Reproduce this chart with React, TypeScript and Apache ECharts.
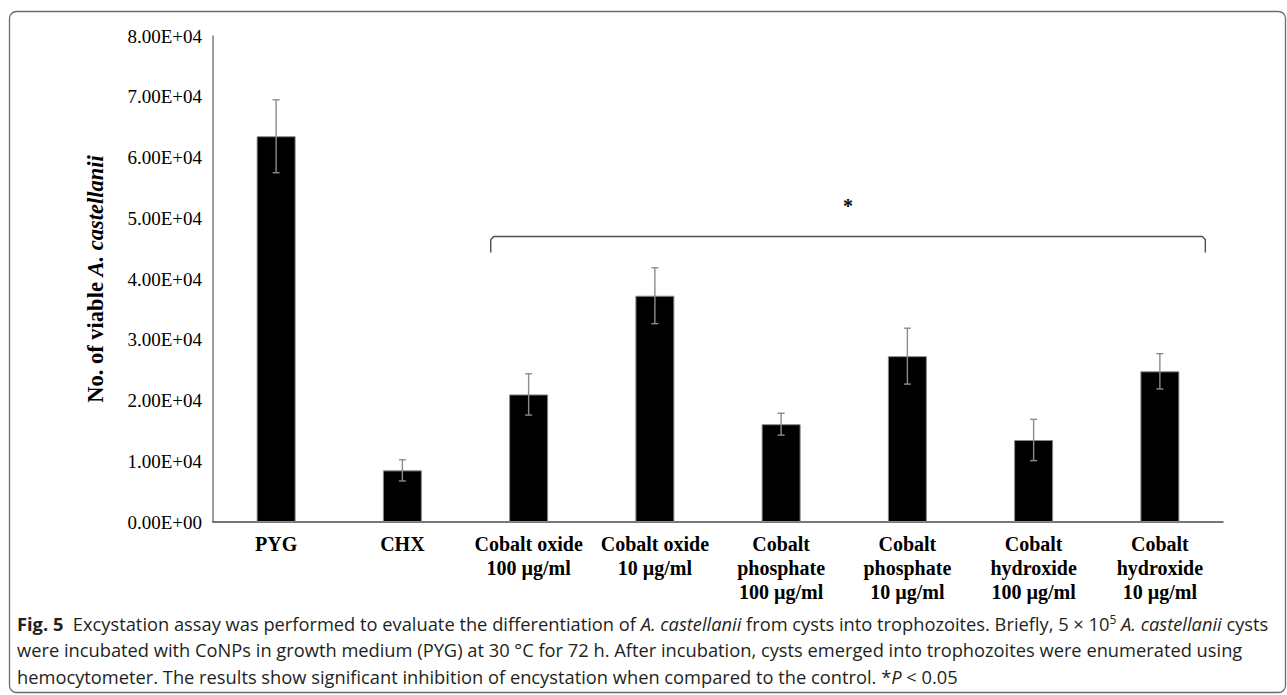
import React, { useEffect, useRef } from "react";
import * as echarts from "echarts";

// Excystation assay: viable A. castellanii counts per treatment
const categories = [
  "PYG",
  "CHX",
  "Cobalt oxide\n100 µg/ml",
  "Cobalt oxide\n10 µg/ml",
  "Cobalt\nphosphate\n100 µg/ml",
  "Cobalt\nphosphate\n10 µg/ml",
  "Cobalt\nhydroxide\n100 µg/ml",
  "Cobalt\nhydroxide\n10 µg/ml",
];
const viableCounts = [63500, 8500, 21000, 37250, 16100, 27300, 13500, 24800];
const errorSizes = [6000, 1750, 3400, 4600, 1800, 4600, 3400, 2900];

const yMin = 0;
const yMax = 80000;
const yInterval = 10000;

// significance bracket over the CoNP treatments
const bracketFrom = 2;
const bracketTo = 7;
const bracketLevel = 47000;
const bracketMark = "*";

const captionLines = [
  "{fb|Fig. 5}  Excystation assay was performed to evaluate the differentiation of {it|A. castellanii} from cysts into trophozoites. Briefly, 5 × 10{sup|5} {it|A. castellanii} cysts",
  "were incubated with CoNPs in growth medium (PYG) at 30 °C for 72 h. After incubation, cysts emerged into trophozoites were enumerated using",
  "hemocytometer. The results show significant inhibition of encystation when compared to the control. *{it|P} < 0.05",
];

const SERIF = "'Liberation Serif', 'Times New Roman', serif";
const SANS = "'Open Sans', 'Noto Sans', sans-serif";
const CAPTION_SIZE = 18.3;

function sci(v: number): string {
  const [m, e] = v.toExponential(2).split("e");
  const sign = e[0] === "-" ? "-" : "+";
  const digits = e.replace(/[+-]/, "").padStart(2, "0");
  return `${m}E${sign}${digits}`;
}

export default function App() {
  const ref = useRef<HTMLDivElement>(null);

  useEffect(() => {
    if (!ref.current) return;
    const chart = echarts.init(ref.current, undefined, { renderer: "svg" });

    const errData = viableCounts.map((v, i) => [i, v - errorSizes[i], v + errorSizes[i]]);

    const captionRich = {
      fb: { fontFamily: SANS, fontWeight: "bold" as const, fontSize: CAPTION_SIZE, color: "#231f20" },
      it: { fontFamily: SANS, fontStyle: "italic" as const, fontSize: CAPTION_SIZE, color: "#231f20" },
      sup: { fontFamily: SANS, fontSize: 12, color: "#231f20", verticalAlign: "top" as const, padding: [0, 0, 8, 0] },
    };

    chart.setOption({
      animation: false,
      backgroundColor: "#ffffff",
      grid: { left: 213, right: 64, top: 36, bottom: 173, containLabel: false },
      xAxis: {
        type: "category",
        data: categories,
        axisLine: { show: true, lineStyle: { color: "#4a4a4a", width: 1.5 } },
        axisTick: { show: false },
        axisLabel: {
          interval: 0,
          margin: 10,
          color: "#000",
          fontFamily: SERIF,
          fontWeight: "bold",
          fontSize: 20,
          lineHeight: 24,
        },
        splitLine: { show: false },
      },
      yAxis: {
        type: "value",
        min: yMin,
        max: yMax,
        interval: yInterval,
        axisLine: { show: true, lineStyle: { color: "#7f7f7f", width: 1.5 } },
        axisTick: { show: false },
        splitLine: { show: false },
        axisLabel: {
          color: "#000",
          fontFamily: SERIF,
          fontSize: 19,
          margin: 11,
          formatter: (v: number) => sci(v),
        },
        name: "No. of viable {i|A. castellanii}",
        nameLocation: "middle",
        nameRotate: 90,
        nameGap: 106,
        nameTextStyle: {
          color: "#000",
          fontFamily: SERIF,
          fontWeight: "bold",
          fontSize: 22.5,
          rich: {
            i: { fontFamily: SERIF, fontWeight: "bold", fontStyle: "italic", fontSize: 22.5, color: "#000" },
          },
        },
      },
      series: [
        {
          type: "bar",
          data: viableCounts,
          barWidth: 39,
          itemStyle: { color: "#000", borderColor: "#8a8a8a", borderWidth: 1 },
          z: 2,
        },
        {
          type: "custom",
          data: errData,
          encode: { x: 0, y: [1, 2] },
          z: 3,
          renderItem: (params: any, api: any) => {
            const x = api.value(0);
            const lo = api.coord([x, api.value(1)]);
            const hi = api.coord([x, api.value(2)]);
            const cap = 3.5;
            const style = { stroke: "#8c8c8c", lineWidth: 1.4 };
            return {
              type: "group",
              children: [
                { type: "line", shape: { x1: hi[0], y1: hi[1], x2: lo[0], y2: lo[1] }, style },
                { type: "line", shape: { x1: hi[0] - cap, y1: hi[1], x2: hi[0] + cap, y2: hi[1] }, style },
                { type: "line", shape: { x1: lo[0] - cap, y1: lo[1], x2: lo[0] + cap, y2: lo[1] }, style },
              ],
            };
          },
        },
      ],
      graphic: [
        {
          type: "rect",
          id: "frame",
          shape: { x: 9.5, y: 11.5, width: 1276, height: 681, r: 7 },
          style: { fill: "none", stroke: "#6b6b6b", lineWidth: 1.3 },
          z: -1,
          silent: true,
        },
        ...captionLines.map((t, i) => ({
          type: "text",
          id: "caption" + i,
          x: 17,
          y: 623 + i * 26.5,
          style: {
            text: t,
            fontFamily: SANS,
            fontSize: CAPTION_SIZE,
            fill: "#231f20",
            verticalAlign: "middle",
            align: "left",
            rich: captionRich,
          },
        })),
      ],
    });

    // bracket anchored to the category bands and the value scale
    const p2 = chart.convertToPixel({ xAxisIndex: 0, yAxisIndex: 0 }, [bracketFrom, bracketLevel]) as number[];
    const p3 = chart.convertToPixel({ xAxisIndex: 0, yAxisIndex: 0 }, [bracketFrom + 1, bracketLevel]) as number[];
    const p7 = chart.convertToPixel({ xAxisIndex: 0, yAxisIndex: 0 }, [bracketTo, bracketLevel]) as number[];
    const band = p3[0] - p2[0];
    const left = p2[0] - 0.3 * band;
    const right = p7[0] + 0.36 * band;
    const yb = p2[1];
    const drop = 16;
    chart.setOption({
      graphic: [
        {
          type: "polyline",
          id: "bracket",
          shape: {
            points: [
              [left, yb + drop],
              [left, yb + 3],
              [left + 3, yb],
              [right - 3, yb],
              [right, yb + 3],
              [right, yb + drop],
            ],
          },
          style: { fill: "none", stroke: "#4d4d4d", lineWidth: 1.4 },
        },
        {
          type: "text",
          id: "star",
          x: (left + right) / 2,
          y: yb - 30,
          style: {
            text: bracketMark,
            fontFamily: SERIF,
            fontWeight: "bold",
            fontSize: 20,
            fill: "#000",
            align: "center",
            verticalAlign: "middle",
          },
        },
      ],
    });

    return () => chart.dispose();
  }, []);

  return (
    <div
      ref={ref}
      style={{ position: "fixed", left: 0, top: 0, width: 1287, height: 695, background: "#fff" }}
    />
  );
}
